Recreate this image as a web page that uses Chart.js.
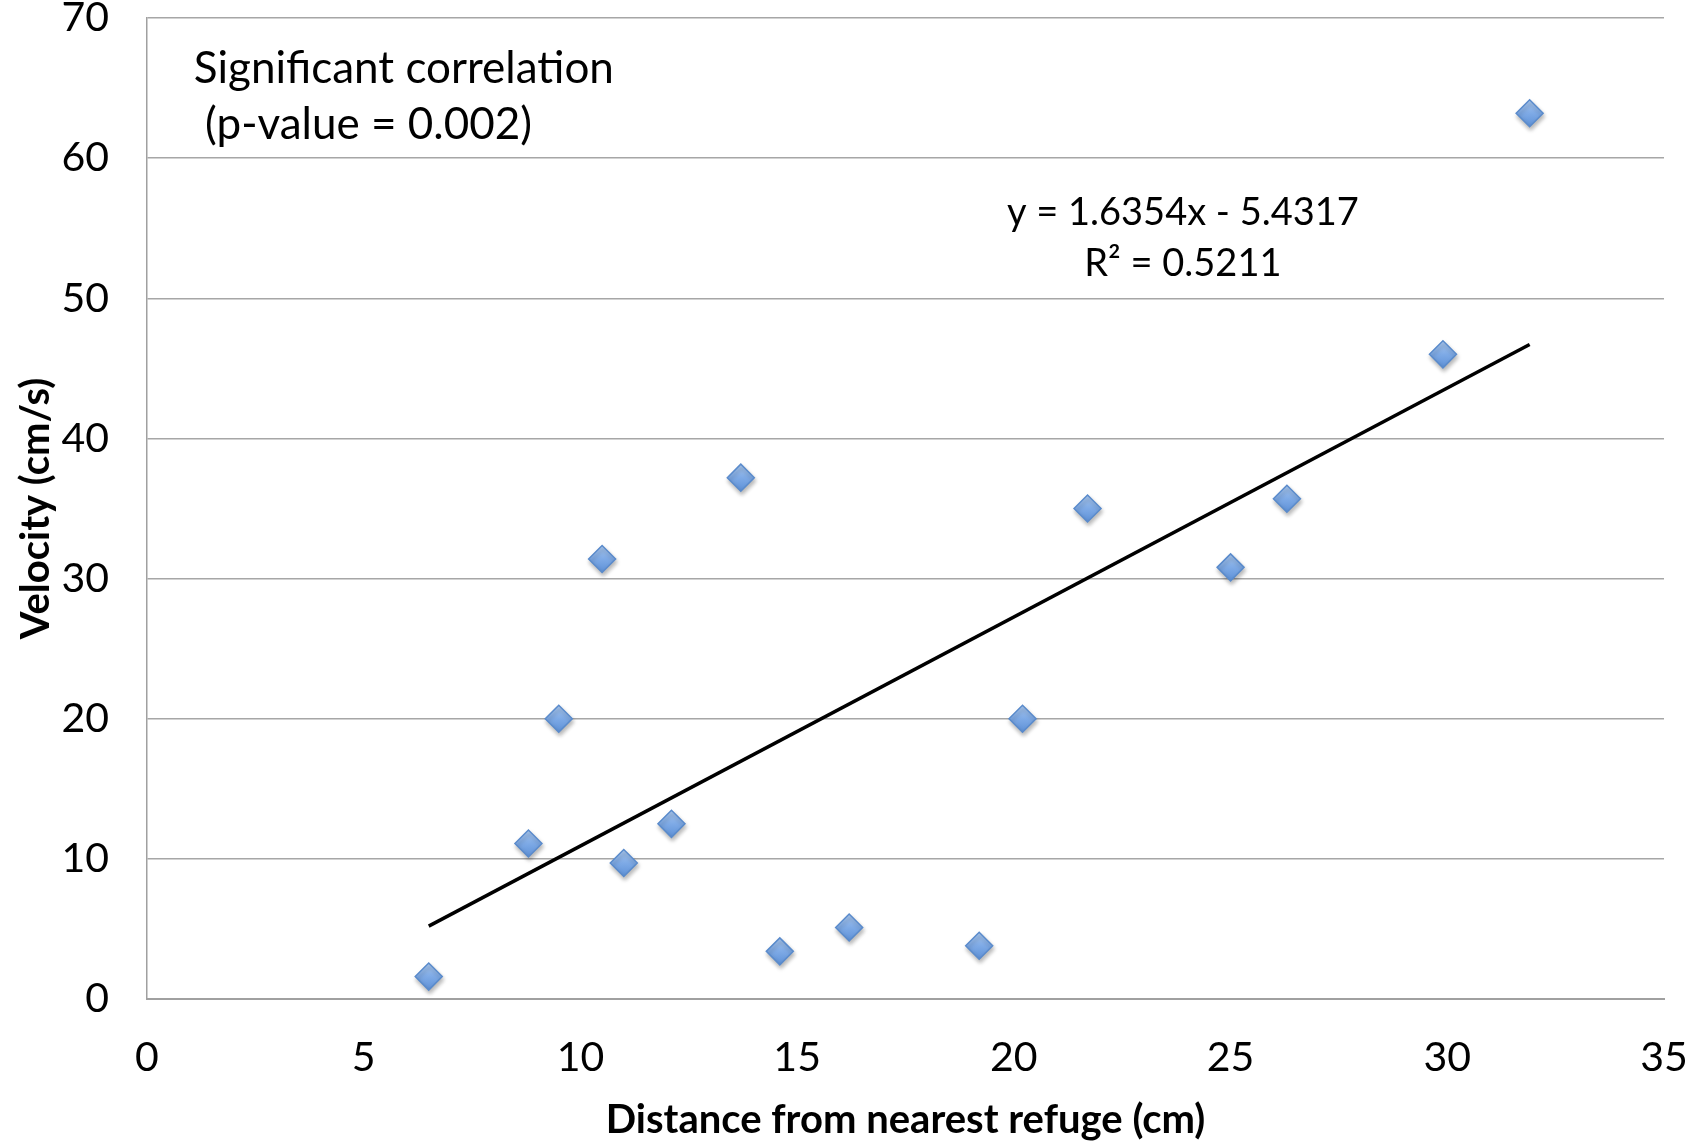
<!DOCTYPE html>
<html>
<head>
<meta charset="utf-8">
<script src="https://cdn.jsdelivr.net/npm/chart.js@4/dist/chart.umd.min.js"></script>
<style>
  html, body { margin: 0; padding: 0; background: #fff; }
  #wrap { width: 1705px; height: 1144px; }
</style>
</head>
<body>
<div id="wrap"><canvas id="scatterChart" width="1705" height="1144"></canvas></div>
<script>
// values
var distance = [6.5, 8.8, 9.5, 10.5, 11.0, 12.1, 13.7, 14.6, 16.2, 19.2, 20.2, 21.7, 25.0, 26.3, 29.9, 31.9];
var velocity = [1.6, 11.1, 20.0, 31.4, 9.7, 12.5, 37.2, 3.4, 5.1, 3.8, 20.0, 35.0, 30.8, 35.7, 46.0, 63.2];
var trendX = [6.5, 31.9];
var trendY = [5.2, 46.7];
var noteLines = ["Significant correlation", " (p-value = 0.002)"];
var eqLines = ["y = 1.6354x - 5.4317", "R\u00B2 = 0.5211"];

var fontFam = "Lato, 'Open Sans', sans-serif";

var points = distance.map(function (d, i) { return { x: d, y: velocity[i] }; });
var trend = trendX.map(function (d, i) { return { x: d, y: trendY[i] }; });

// text boxes drawn on top of the plot area
var notes = {
    id: 'notes',
    beforeDatasetDraw: function (chart, args) {
        if (args.index === 0) {
            chart.ctx.save();
            chart.ctx.shadowColor = 'rgba(0,0,0,0.28)';
            chart.ctx.shadowBlur = 4;
            chart.ctx.shadowOffsetX = 1;
            chart.ctx.shadowOffsetY = 3;
        }
    },
    afterDatasetDraw: function (chart, args) {
        if (args.index === 0) chart.ctx.restore();
    },
    afterDatasetsDraw: function (chart) {
        var ctx = chart.ctx;
        var xs = chart.scales.x, ys = chart.scales.y;
        ctx.save();
        ctx.fillStyle = '#000';
        ctx.textBaseline = 'middle';
        ctx.textAlign = 'left';
        ctx.font = '44px ' + fontFam;
        ctx.fillText(noteLines[0], xs.getPixelForValue(1.08), ys.getPixelForValue(66.4));
        ctx.fillText(noteLines[1], xs.getPixelForValue(1.08), ys.getPixelForValue(62.4));
        ctx.textAlign = 'center';
        ctx.font = '38px ' + fontFam;
        ctx.fillText(eqLines[0], xs.getPixelForValue(23.9), ys.getPixelForValue(56.1));
        ctx.fillText(eqLines[1], xs.getPixelForValue(23.9), ys.getPixelForValue(52.5));
        ctx.restore();
    }
};

function markerFill(c) {
    var chart = c.chart;
    if (!chart.chartArea || !c.parsed) return '#7eaae2';
    var py = chart.scales.y.getPixelForValue(c.parsed.y);
    var g = chart.ctx.createLinearGradient(0, py - 13, 0, py + 13);
    g.addColorStop(0, '#a9c8f0');
    g.addColorStop(0.5, '#7eaae6');
    g.addColorStop(1, '#5f92d8');
    return g;
}

var ctx = document.getElementById("scatterChart").getContext('2d');
var chart = new Chart(ctx, {
    type: 'scatter',
    data: {
        datasets: [{
            data: points,
            pointStyle: 'rectRot',
            pointRadius: 13.5,
            pointHoverRadius: 13.5,
            backgroundColor: markerFill,
            borderColor: '#5a8bcc',
            borderWidth: 1.5,
            order: 1
        }, {
            type: 'line',
            data: trend,
            borderColor: '#000',
            borderWidth: 3.5,
            pointRadius: 0,
            fill: false,
            order: 2
        }]
    },
    options: {
        responsive: false,
        animation: false,
        maintainAspectRatio: false,
        layout: { padding: { top: 18, right: 41, left: 0, bottom: 0 } },
        plugins: {
            legend: { display: false },
            tooltip: { enabled: false }
        },
        scales: {
            x: {
                type: 'linear',
                min: 0,
                max: 35,
                ticks: { stepSize: 5, color: '#000', padding: 34, font: { size: 41, family: fontFam } },
                grid: { display: false, drawTicks: false },
                border: { display: true, color: '#a0a0a0', width: 2 },
                title: {
                    display: true,
                    text: 'Distance from nearest refuge (cm)',
                    color: '#000',
                    font: { size: 40, weight: 'bold', family: fontFam },
                    padding: { top: 8, bottom: 0 }
                },
                afterFit: function (s) { s.height = 145; s.paddingLeft = 0; s.paddingRight = 0; }
            },
            y: {
                min: 0,
                max: 70,
                ticks: { stepSize: 10, color: '#000', padding: 38, font: { size: 41, family: fontFam } },
                grid: { color: '#a6a6a6', lineWidth: 1.5, drawTicks: false },
                border: { display: true, color: '#a0a0a0', width: 1.5 },
                title: {
                    display: true,
                    text: 'Velocity (cm/s)',
                    color: '#000',
                    font: { size: 40, weight: 'bold', family: fontFam },
                    padding: { top: 12, bottom: 0 }
                },
                afterFit: function (s) { s.width = 147; s.paddingTop = 0; s.paddingBottom = 0; }
            }
        }
    },
    plugins: [notes]
});
</script>
</body>
</html>
